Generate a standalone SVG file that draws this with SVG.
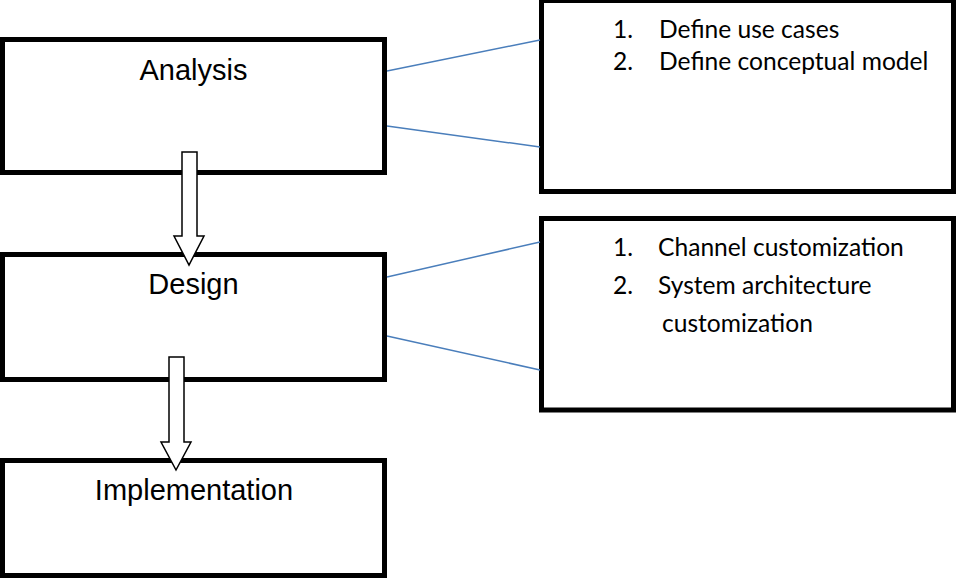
<svg xmlns="http://www.w3.org/2000/svg" width="956" height="581" viewBox="0 0 956 581">
<defs>
<style>
.box{fill:#fff;stroke:#000;stroke-width:5}
.lbl{font-family:"Liberation Sans",Arial,sans-serif;font-size:29px;fill:#000;text-anchor:middle}
.item{font-family:Lato,"Open Sans",sans-serif;font-size:24.6px;fill:#000}
.link{stroke:#4a7ebb;stroke-width:1.5;fill:none}
.arrow{fill:#fff;stroke:#000;stroke-width:1.5;stroke-linejoin:miter}
</style>
</defs>
<rect width="956" height="581" fill="#fff"/>
<g id="analysis">
<rect class="box" x="2.5" y="39.5" width="382" height="133"/>
<text class="lbl" x="193.5" y="80">Analysis</text>
</g>
<g id="design">
<rect class="box" x="2.5" y="254.5" width="382" height="125"/>
<text class="lbl" x="193.5" y="294">Design</text>
</g>
<g id="implementation">
<rect class="box" x="2.5" y="460.5" width="382" height="115"/>
<text class="lbl" x="194" y="500">Implementation</text>
</g>
<g id="analysis-details">
<rect class="box" x="541.5" y="0.5" width="412" height="191"/>
<text class="item" x="613" y="38">1.</text>
<text class="item" x="659" y="38">Define use cases</text>
<text class="item" x="613" y="70">2.</text>
<text class="item" x="659" y="70">Define conceptual model</text>
</g>
<g id="design-details">
<rect class="box" x="541.5" y="218.5" width="412" height="191.5"/>
<text class="item" x="613" y="256">1.</text>
<text class="item" x="658" y="256">Channel customization</text>
<text class="item" x="613" y="294">2.</text>
<text class="item" x="658" y="294">System architecture</text>
<text class="item" x="662" y="332">customization</text>
</g>
<g id="connectors">
<line class="link" x1="387" y1="71" x2="540" y2="40"/>
<line class="link" x1="387" y1="126" x2="540" y2="147"/>
<line class="link" x1="387" y1="277" x2="540" y2="242"/>
<line class="link" x1="387" y1="336" x2="540" y2="370"/>
<polygon class="arrow" points="182,152 197,152 197,236 204,236 189,265 174,236 182,236"/>
<polygon class="arrow" points="169,357 184,357 184,442 191,442 176,470 161,442 169,442"/>
</g>
</svg>
